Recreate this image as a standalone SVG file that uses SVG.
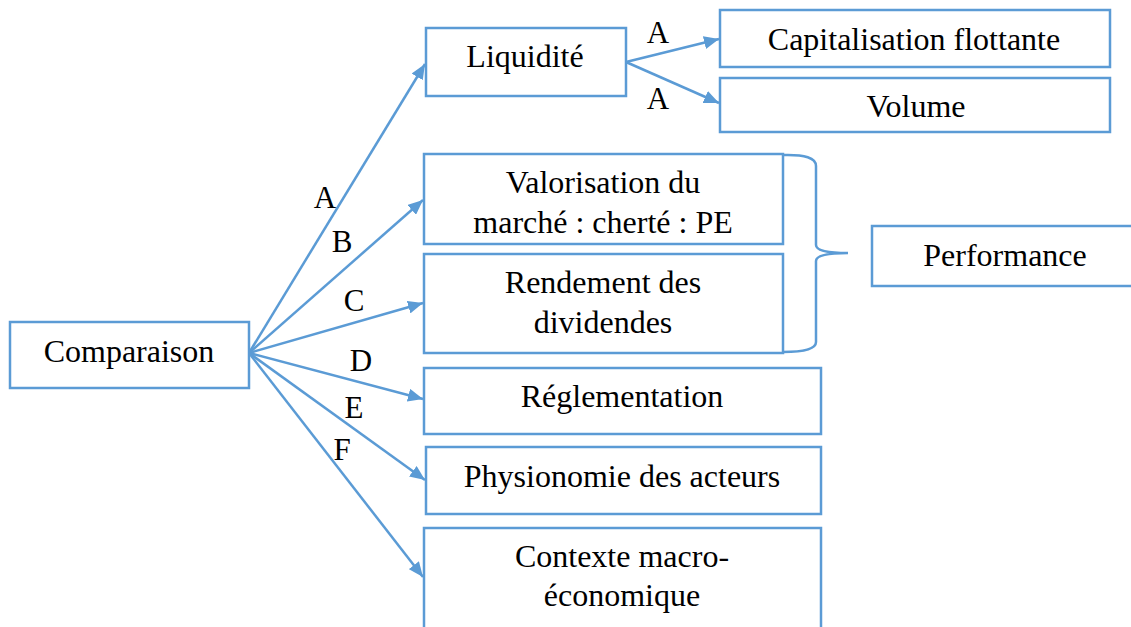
<svg xmlns="http://www.w3.org/2000/svg" width="1131" height="627" viewBox="0 0 1131 627">
<style>
.box{fill:#fff;stroke:#5B9BD5;stroke-width:2.5}
.ln{fill:none;stroke:#5B9BD5;stroke-width:2.5}
.t{font-family:"Liberation Serif","Times New Roman",serif;font-size:32px;fill:#000;text-anchor:middle}
.l{font-family:"Liberation Serif","Times New Roman",serif;font-size:31px;fill:#000;text-anchor:middle}
</style>
<defs>
<marker id="arr" markerUnits="userSpaceOnUse" markerWidth="16" markerHeight="13" refX="15" refY="6.5" orient="auto">
<path d="M0,0 L15,6.5 L0,13 z" fill="#5B9BD5"/>
</marker>
</defs>
<rect width="1131" height="627" fill="#fff"/>
<g id="connectors">
<line class="ln" x1="249" y1="353" x2="425" y2="64" marker-end="url(#arr)"/>
<line class="ln" x1="249" y1="353" x2="423" y2="200" marker-end="url(#arr)"/>
<line class="ln" x1="249" y1="353" x2="423" y2="303" marker-end="url(#arr)"/>
<line class="ln" x1="249" y1="353" x2="423" y2="399" marker-end="url(#arr)"/>
<line class="ln" x1="249" y1="353" x2="425" y2="480" marker-end="url(#arr)"/>
<line class="ln" x1="249" y1="353" x2="423" y2="577" marker-end="url(#arr)"/>
<line class="ln" x1="626" y1="62" x2="719" y2="39" marker-end="url(#arr)"/>
<line class="ln" x1="626" y1="62" x2="719" y2="103" marker-end="url(#arr)"/>
<path class="ln" d="M783,155 Q816,154 816,166 L816,245 Q816,253 848,253 Q816,253 816,261 L816,342 Q816,352 783,352"/>
<text class="l" x="325" y="208">A</text>
<text class="l" x="342" y="252">B</text>
<text class="l" x="354" y="311">C</text>
<text class="l" x="361" y="371">D</text>
<text class="l" x="354" y="418">E</text>
<text class="l" x="342" y="460">F</text>
<text class="l" x="658" y="43">A</text>
<text class="l" x="658" y="109">A</text>
</g>
<g id="comparaison"><rect class="box" x="10" y="322" width="239" height="66"/><text class="t" x="129" y="362">Comparaison</text></g>
<g id="liquidite"><rect class="box" x="426" y="28" width="200" height="68"/><text class="t" x="525" y="67">Liquidité</text></g>
<g id="capitalisation"><rect class="box" x="720" y="10" width="390" height="57"/><text class="t" x="914" y="50">Capitalisation flottante</text></g>
<g id="volume"><rect class="box" x="720" y="78" width="390" height="54"/><text class="t" x="916" y="117">Volume</text></g>
<g id="valorisation"><rect class="box" x="424" y="154" width="359" height="90"/><text class="t" x="603" y="193">Valorisation du</text><text class="t" x="603" y="233">marché : cherté : PE</text></g>
<g id="rendement"><rect class="box" x="424" y="254" width="359" height="99"/><text class="t" x="603" y="293">Rendement des</text><text class="t" x="603" y="333">dividendes</text></g>
<g id="performance"><rect class="box" x="872" y="226" width="270" height="60"/><text class="t" x="1005" y="266">Performance</text></g>
<g id="reglementation"><rect class="box" x="424" y="368" width="397" height="66"/><text class="t" x="622" y="407">Réglementation</text></g>
<g id="physionomie"><rect class="box" x="426" y="447" width="395" height="67"/><text class="t" x="622" y="487">Physionomie des acteurs</text></g>
<g id="contexte"><rect class="box" x="424" y="528" width="397" height="110"/><text class="t" x="622" y="567">Contexte macro-</text><text class="t" x="622" y="606">économique</text></g>
</svg>
